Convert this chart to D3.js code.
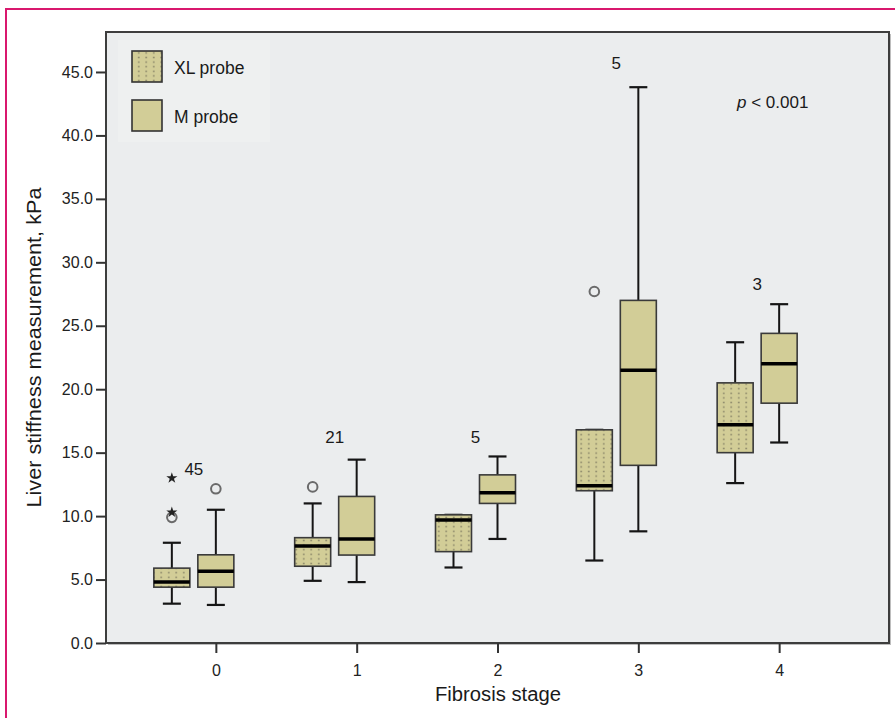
<!DOCTYPE html>
<html><head><meta charset="utf-8">
<script src="https://cdn.jsdelivr.net/npm/d3@7"></script>
<style>
body{margin:0;background:#fff}
svg{display:block}
text{font-family:"Liberation Sans",Arial,Helvetica,sans-serif;fill:#1a1a1a}
</style>
</head><body><svg id="c" width="895" height="718"></svg>
<script>
const stages = ["0","1","2","3","4"];
const probes = ["XL probe","M probe"];
// [whiskerLow, Q1, median, Q3, whiskerHigh] for each stage
const xlBoxes = [[3.1,4.4,4.8,5.9,7.9],[4.9,6.05,7.65,8.3,11.0],[5.95,7.2,9.7,10.1,10.1],[6.5,12.0,12.4,16.8,16.8],[12.6,15.0,17.2,20.5,23.7]];
const mBoxes  = [[3.0,4.4,5.65,6.95,10.5],[4.8,6.93,8.2,11.55,14.45],[8.2,11.0,11.85,13.25,14.7],[8.8,14.0,21.5,27.0,43.8],[15.8,18.9,22.0,24.4,26.7]];
// outliers: [stageIndex, value]
const xlOutCircles = [[0,9.9],[1,12.3],[3,27.7]];
const xlOutStars = [[0,13.0],[0,10.3]];
const mOutCircles = [[0,12.15]];
const sampleSizes = ["45","21","5","5","3"];
const sampleLabelValues = [13.75,16.2,16.2,45.7,28.3];
const yTicks = [0,5,10,15,20,25,30,35,40,45];
const pText = ["p", " < 0.001"];

const svg = d3.select("#c");
const F = {l:106, r:889, t:32, b:643};

// pink page border
svg.append("line").attr("x1",6).attr("x2",6).attr("y1",8).attr("y2",718).attr("stroke","#d9186e").attr("stroke-width",2);
svg.append("line").attr("x1",5).attr("x2",895).attr("y1",9).attr("y2",9).attr("stroke","#d9186e").attr("stroke-width",2);

const x = d3.scalePoint().domain(stages).range([F.l,F.r]).padding(0.78);
const off = d3.scaleBand().domain(probes).range([-62,18]).paddingInner(8/44);
const y = d3.scaleLinear().domain([0,48.15]).range([F.b,F.t]);
const bw = off.bandwidth();

// dotted pattern for XL probe
const defs = svg.append("defs");
const pat = defs.append("pattern").attr("id","dots").attr("patternUnits","userSpaceOnUse")
  .attr("width",7.5).attr("height",4.6);
pat.append("rect").attr("width",7.5).attr("height",4.6).attr("fill","#d2cd97");
pat.append("circle").attr("cx",3.75).attr("cy",2.3).attr("r",0.95).attr("fill","#8f8b6c");

// plot frame with slight shadow
svg.append("rect").attr("x",F.l+2).attr("y",F.t+2).attr("width",F.r-F.l).attr("height",F.b-F.t).attr("fill","#bdbdbd");
svg.append("rect").attr("x",F.l).attr("y",F.t).attr("width",F.r-F.l).attr("height",F.b-F.t)
  .attr("fill","#ebedee").attr("stroke","#3d3d3d").attr("stroke-width",2);

// legend background
svg.append("rect").attr("x",118).attr("y",40).attr("width",152).attr("height",102).attr("fill","#eef0f0");

// axes
const ya = svg.append("g").attr("transform",`translate(${F.l},0)`)
  .call(d3.axisLeft(y).tickValues(yTicks).tickFormat(d3.format(".1f")).tickSize(10).tickPadding(3));
ya.select(".domain").remove();
ya.selectAll("line").attr("stroke","#333").attr("stroke-width",2);
ya.selectAll("text").attr("font-size",16).style("fill","#222");

const xa = svg.append("g").attr("transform",`translate(0,${F.b})`)
  .call(d3.axisBottom(x).tickSize(10).tickPadding(12));
xa.select(".domain").remove();
xa.selectAll("line").attr("stroke","#333").attr("stroke-width",2);
xa.selectAll("text").attr("font-size",16).style("fill","#222");

// axis titles
svg.append("text").attr("x",498).attr("y",701).attr("text-anchor","middle")
  .attr("font-size",20).attr("textLength",126).attr("lengthAdjust","spacingAndGlyphs").text("Fibrosis stage");
svg.append("text").attr("transform",`translate(41,${(F.t+F.b)/2+10}) rotate(-90)`).attr("text-anchor","middle")
  .attr("font-size",20).attr("textLength",320).attr("lengthAdjust","spacingAndGlyphs").text("Liver stiffness measurement, kPa");

// boxes
function drawBoxes(data, probe, fill){
  const g = svg.append("g");
  data.forEach((d,i)=>{
    const cx = x(stages[i]) + off(probe) + bw/2;
    const [lo,q1,med,q3,hi] = d;
    const cap = bw*0.5;
    const gg = g.append("g");
    gg.append("line").attr("x1",cx).attr("x2",cx).attr("y1",y(q3)).attr("y2",y(hi)).attr("stroke","#151515").attr("stroke-width",2);
    gg.append("line").attr("x1",cx).attr("x2",cx).attr("y1",y(q1)).attr("y2",y(lo)).attr("stroke","#151515").attr("stroke-width",2);
    gg.append("line").attr("x1",cx-cap/2).attr("x2",cx+cap/2).attr("y1",y(hi)).attr("y2",y(hi)).attr("stroke","#151515").attr("stroke-width",2.2);
    gg.append("line").attr("x1",cx-cap/2).attr("x2",cx+cap/2).attr("y1",y(lo)).attr("y2",y(lo)).attr("stroke","#151515").attr("stroke-width",2.2);
    gg.append("rect").attr("x",cx-bw/2).attr("y",y(q3)).attr("width",bw).attr("height",y(q1)-y(q3))
      .attr("fill",fill).attr("stroke","#3a3a3a").attr("stroke-width",1.6);
    gg.append("line").attr("x1",cx-bw/2).attr("x2",cx+bw/2).attr("y1",y(med)).attr("y2",y(med)).attr("stroke","#000").attr("stroke-width",3.5);
  });
}
drawBoxes(xlBoxes,"XL probe","url(#dots)");
drawBoxes(mBoxes,"M probe","#d2cd97");

// outliers
function circles(data, probe){
  svg.append("g").selectAll("circle").data(data).join("circle")
    .attr("cx",d=>x(stages[d[0]])+off(probe)+bw/2).attr("cy",d=>y(d[1])).attr("r",4.8)
    .attr("fill","none").attr("stroke","#6a6a6a").attr("stroke-width",2);
}
circles(xlOutCircles,"XL probe");
circles(mOutCircles,"M probe");
svg.append("g").selectAll("path").data(xlOutStars).join("path")
  .attr("transform",d=>`translate(${x(stages[d[0]])+off("XL probe")+bw/2},${y(d[1])})`)
  .attr("d",d3.symbol(d3.symbolStar,38)).attr("fill","#222");

// sample-size labels
svg.append("g").selectAll("text").data(sampleSizes).join("text")
  .attr("x",(d,i)=>x(stages[i])-22).attr("y",(d,i)=>y(sampleLabelValues[i])+6)
  .attr("text-anchor","middle").attr("font-size",17).text(d=>d);

// legend
const leg = svg.append("g");
probes.forEach((p,i)=>{
  const yy = 51 + i*49;
  leg.append("rect").attr("x",132).attr("y",yy).attr("width",30).attr("height",31)
    .attr("fill", i===0 ? "url(#dots)" : "#d2cd97").attr("stroke","#333").attr("stroke-width",1.6);
  leg.append("text").attr("x",174).attr("y",yy+23).attr("font-size",17.5).text(p);
});

// p value
const pt = svg.append("text").attr("x",737).attr("y",108).attr("font-size",17);
pt.append("tspan").attr("font-style","italic").text(pText[0]);
pt.append("tspan").text(pText[1]);
</script>
</body></html>
